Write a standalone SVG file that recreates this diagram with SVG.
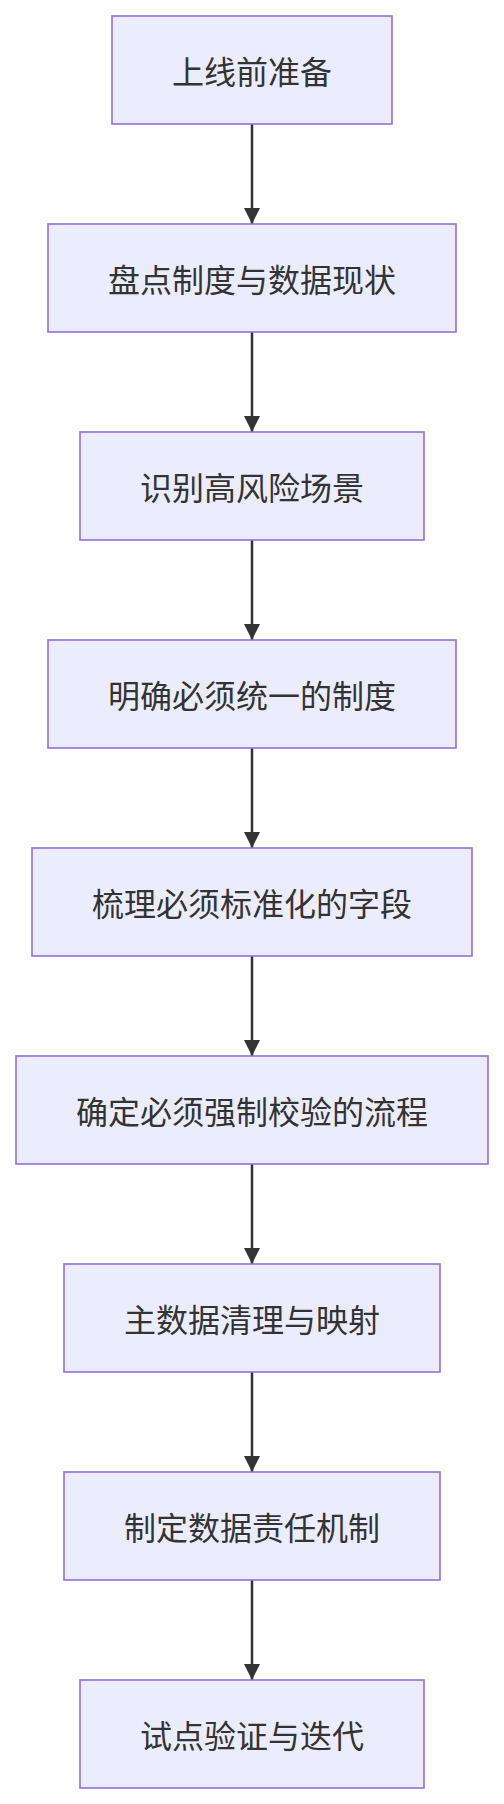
<svg xmlns="http://www.w3.org/2000/svg" width="504" height="1804" viewBox="0 0 504 1804">
<style>
.node rect{fill:#ECECFF;stroke:#9370DB;stroke-width:1.6}
.node text{font-family:"Noto Sans CJK SC","Noto Sans",sans-serif;font-size:32px;fill:#333;text-anchor:middle;dominant-baseline:central}
.edges line{stroke:#333;stroke-width:2.5}
</style>
<defs>
<marker id="arr" viewBox="0 0 16 16" refX="16" refY="8" markerWidth="16" markerHeight="16" markerUnits="userSpaceOnUse" orient="auto">
<path d="M0,0 L16,8 L0,16 z" fill="#333"/>
</marker>
</defs>
<rect width="504" height="1804" fill="#fff"/>
<g class="edges">
<line x1="252" y1="124" x2="252" y2="224" marker-end="url(#arr)"/>
<line x1="252" y1="332" x2="252" y2="432" marker-end="url(#arr)"/>
<line x1="252" y1="540" x2="252" y2="640" marker-end="url(#arr)"/>
<line x1="252" y1="748" x2="252" y2="848" marker-end="url(#arr)"/>
<line x1="252" y1="956" x2="252" y2="1056" marker-end="url(#arr)"/>
<line x1="252" y1="1164" x2="252" y2="1264" marker-end="url(#arr)"/>
<line x1="252" y1="1372" x2="252" y2="1472" marker-end="url(#arr)"/>
<line x1="252" y1="1580" x2="252" y2="1680" marker-end="url(#arr)"/>
</g>
<g id="n1" class="node"><rect x="112" y="16" width="280" height="108"/><text x="252" y="70">上线前准备</text></g>
<g id="n2" class="node"><rect x="48" y="224" width="408" height="108"/><text x="252" y="278">盘点制度与数据现状</text></g>
<g id="n3" class="node"><rect x="80" y="432" width="344" height="108"/><text x="252" y="486">识别高风险场景</text></g>
<g id="n4" class="node"><rect x="48" y="640" width="408" height="108"/><text x="252" y="694">明确必须统一的制度</text></g>
<g id="n5" class="node"><rect x="32" y="848" width="440" height="108"/><text x="252" y="902">梳理必须标准化的字段</text></g>
<g id="n6" class="node"><rect x="16" y="1056" width="472" height="108"/><text x="252" y="1110">确定必须强制校验的流程</text></g>
<g id="n7" class="node"><rect x="64" y="1264" width="376" height="108"/><text x="252" y="1318">主数据清理与映射</text></g>
<g id="n8" class="node"><rect x="64" y="1472" width="376" height="108"/><text x="252" y="1526">制定数据责任机制</text></g>
<g id="n9" class="node"><rect x="80" y="1680" width="344" height="108"/><text x="252" y="1734">试点验证与迭代</text></g>
</svg>
